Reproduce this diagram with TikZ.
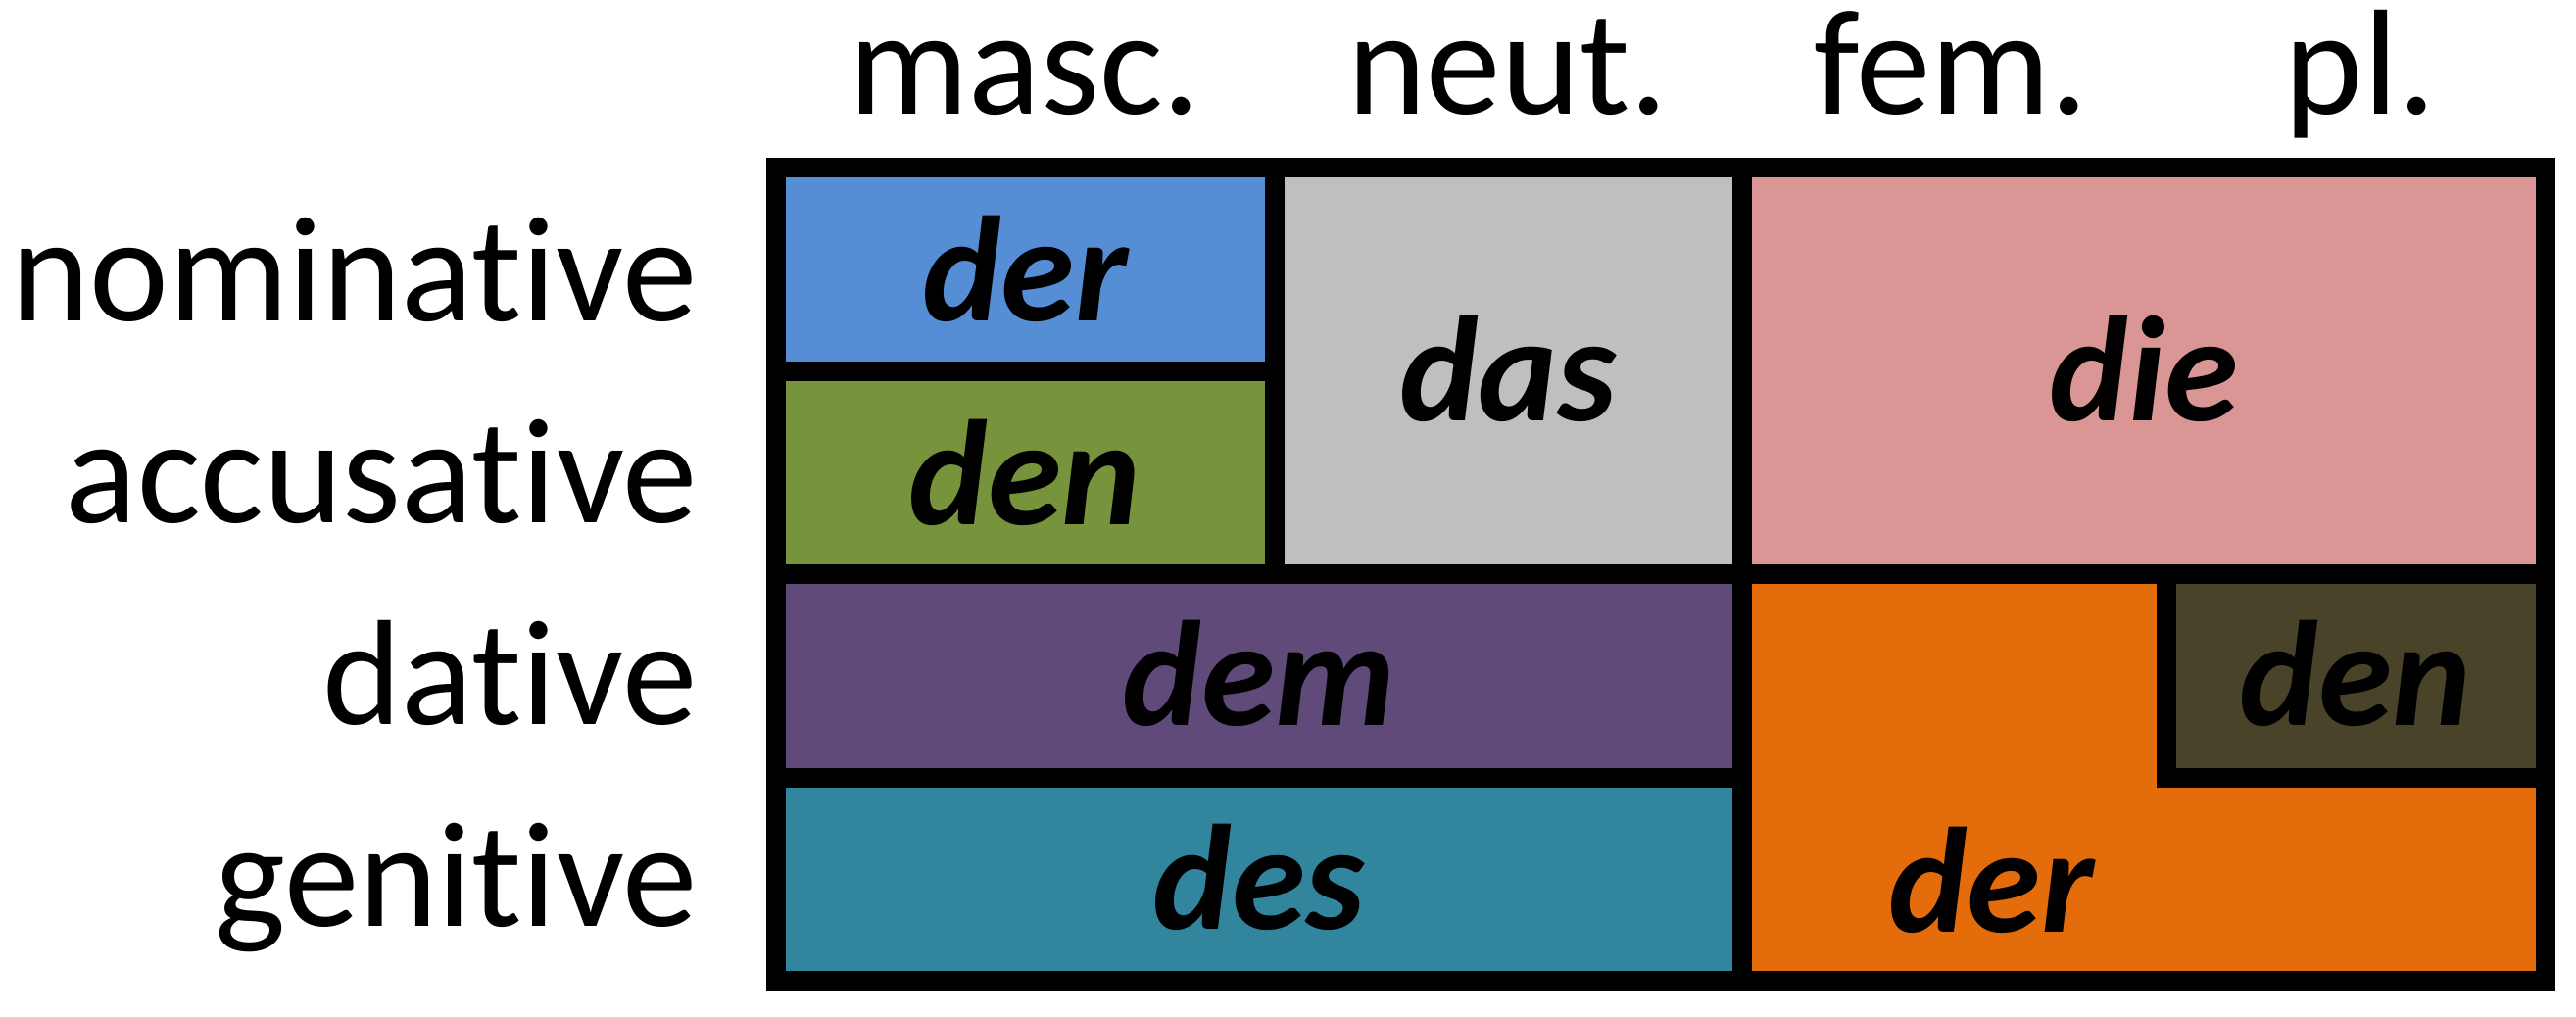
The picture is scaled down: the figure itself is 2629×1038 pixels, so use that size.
\documentclass[tikz,border=0pt]{standalone}
\usepackage{fontspec}
\setmainfont{Carlito}[Ligatures={NoCommon}]
\definecolor{cBlue}{HTML}{558ED5}
\definecolor{cGreen}{HTML}{77933C}
\definecolor{cGrey}{HTML}{BFBFBF}
\definecolor{cPink}{HTML}{D99694}
\definecolor{cPurple}{HTML}{5F4A7A}
\definecolor{cTeal}{HTML}{31859C}
\definecolor{cOrange}{HTML}{E46C0A}
\definecolor{cDark}{HTML}{494429}
\begin{document}
\begin{tikzpicture}[x=1pt,y=-1pt,
  lbl/.style={inner sep=0pt, font=\fontsize{153}{184}\selectfont},
  word/.style={anchor=base, inner sep=0pt, font=\fontsize{153}{184}\selectfont\bfseries\itshape},
  gridline/.style={line width=20pt, draw=black}]
\useasboundingbox (0,0) rectangle (2629,1038);
% cell fills
\fill[cBlue]   (792,171) rectangle (1301,379);
\fill[cGreen]  (792,379) rectangle (1301,586);
\fill[cGrey]   (1301,171) rectangle (1777.5,586);
\fill[cPink]   (1777.5,171) rectangle (2598,586);
\fill[cPurple] (792,586) rectangle (1777.5,794);
\fill[cTeal]   (792,794) rectangle (1777.5,1001);
\fill[cOrange] (1777.5,586) rectangle (2598,1001);
\fill[cDark]   (2211,586) rectangle (2598,794);
% grid lines
\draw[gridline] (792,379) -- (1301,379);
\draw[gridline] (1301,171) -- (1301,586);
\draw[gridline] (792,586) -- (2598,586);
\draw[gridline] (1777.5,171) -- (1777.5,1001);
\draw[gridline] (792,794) -- (1777.5,794);
\draw[gridline] (2211,586) -- (2211,794) -- (2598,794);
\draw[gridline] (792,171) rectangle (2598,1001);
% column headers
\node[lbl, anchor=base] (hm) at (1046,117) {masc.};
\node[lbl, anchor=base] (hn) at (1539,117) {neut.};
\node[lbl, anchor=base] (hf) at (1991,117) {fem.};
\node[lbl, anchor=base] (hp) at (2409,117) {pl.};
% row labels
\node[lbl, anchor=base east] (rnom) at (712,327) {nominative};
\node[lbl, anchor=base east] (racc) at (712,533) {accusative};
\node[lbl, anchor=base east] (rdat) at (712,739) {dative};
\node[lbl, anchor=base east] (rgen) at (712,945) {genitive};
% cell words
\node[word] (wder1) at (1046,327) {der};
\node[word] (wden1) at (1046,535) {den};
\node[word] (wdas)  at (1539,429) {das};
\node[word] (wdie)  at (2188,429) {die};
\node[word] (wdem)  at (1285,740) {dem};
\node[word] (wden2) at (2404,740) {den};
\node[word] (wdes)  at (1285,948) {des};
\node[word] (wder2) at (2032,951) {der};
\end{tikzpicture}
\end{document}
